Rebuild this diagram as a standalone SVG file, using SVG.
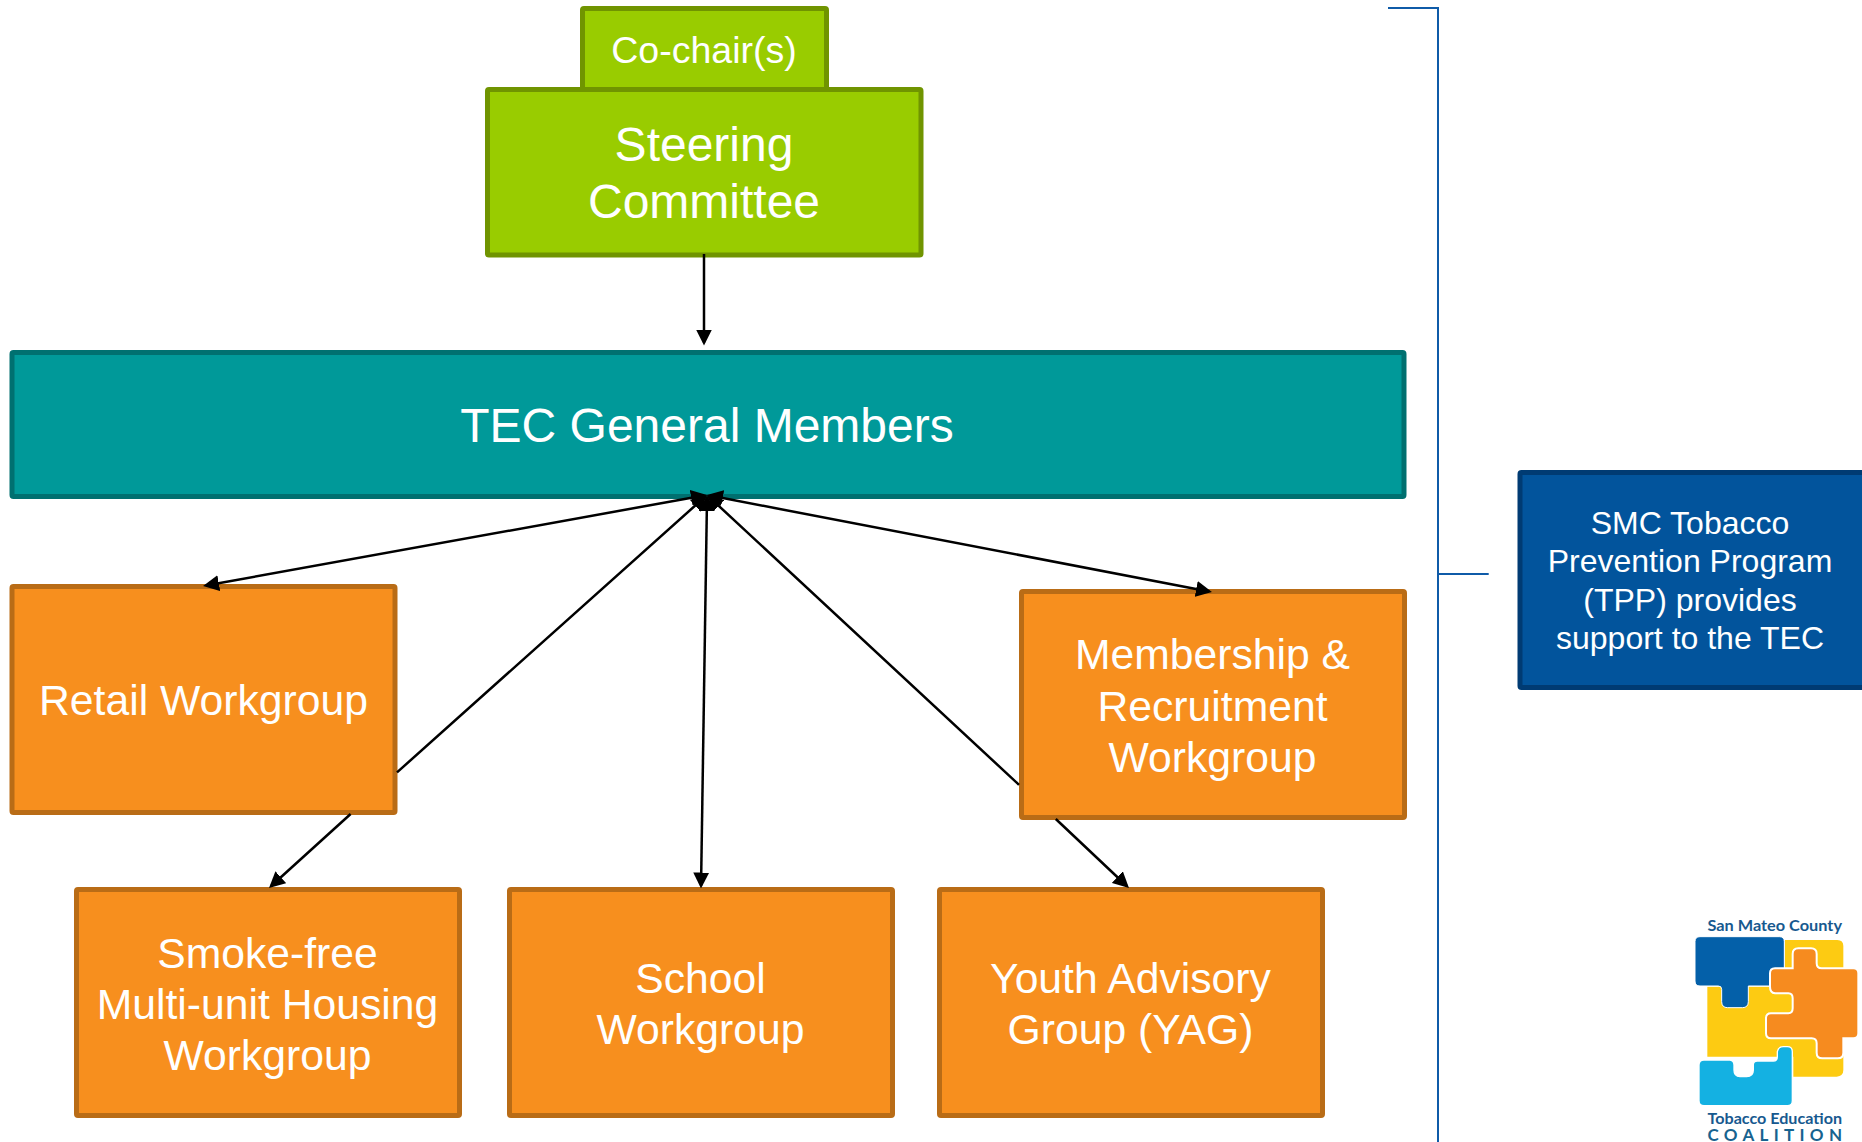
<svg xmlns="http://www.w3.org/2000/svg" width="1862" height="1142" viewBox="0 0 1862 1142">
<style>
text{font-family:"Liberation Sans",Arial,sans-serif;fill:#fff;text-anchor:middle}
.box{stroke-width:5}
.g{fill:#99CC00;stroke:#709400}
.t{fill:#009999;stroke:#007070}
.o{fill:#F78F1E;stroke:#B96C16}
.b{fill:#02549C;stroke:#003B73}
.f48{font-size:48px}.f42{font-size:42.7px}.f37{font-size:37.5px}.f32{font-size:32px}
.c{fill:none;stroke:#000;stroke-width:2.5;marker-end:url(#h)}
.d{marker-start:url(#hs)}
.br{fill:none;stroke:#0F5BA8;stroke-width:2}
.lt{font-family:Lato,"Open Sans",sans-serif;font-weight:700;text-anchor:start;fill:#17598F}
</style>
<defs>
<marker id="h" markerUnits="userSpaceOnUse" markerWidth="16" markerHeight="16" refX="13" refY="8" orient="auto"><path d="M0 0L16 8L0 16Z" fill="#000"/></marker>
<marker id="hs" markerUnits="userSpaceOnUse" markerWidth="16" markerHeight="16" refX="3" refY="8" orient="auto"><path d="M16 0L0 8L16 16Z" fill="#000"/></marker>
</defs>
<rect width="1862" height="1142" fill="#fff"/>
<g id="cochair"><rect class="box g" x="582.5" y="8.5" width="244" height="84" rx="1.5"/><text class="f37" x="704" y="63">Co-chair(s)</text></g>
<g id="steering"><rect class="box g" x="487.5" y="89.5" width="433.5" height="165.5" rx="1.5"/><text class="f48" x="704" y="161">Steering</text><text class="f48" x="704" y="218">Committee</text></g>
<g id="tec"><rect class="box t" x="12" y="352.5" width="1392" height="144" rx="1.5"/><text class="f48" x="707" y="442">TEC General Members</text></g>
<g id="retail"><rect class="box o" x="12" y="586.5" width="383" height="226" rx="1.5"/><text class="f42" x="203.5" y="715">Retail Workgroup</text></g>
<g id="membership"><rect class="box o" x="1021.5" y="591.5" width="383" height="226" rx="1.5"/><text class="f42" x="1212.5" y="669">Membership &amp;</text><text class="f42" x="1212.5" y="720.5">Recruitment</text><text class="f42" x="1212.5" y="772">Workgroup</text></g>
<g id="smokefree"><rect class="box o" x="76.5" y="889.5" width="383" height="226" rx="1.5"/><text class="f42" x="267.5" y="968">Smoke-free</text><text class="f42" x="267.5" y="1019">Multi-unit Housing</text><text class="f42" x="267.5" y="1070">Workgroup</text></g>
<g id="school"><rect class="box o" x="509.5" y="889.5" width="383" height="226" rx="1.5"/><text class="f42" x="700.5" y="993">School</text><text class="f42" x="700.5" y="1044">Workgroup</text></g>
<g id="youth"><rect class="box o" x="939.5" y="889.5" width="383" height="226" rx="1.5"/><text class="f42" x="1130.5" y="993">Youth Advisory</text><text class="f42" x="1130.5" y="1044">Group (YAG)</text></g>
<g id="tpp"><rect class="box b" x="1520" y="472.5" width="345" height="215" rx="1.5"/><text class="f32" x="1690" y="534">SMC Tobacco</text><text class="f32" x="1690" y="572">Prevention Program</text><text class="f32" x="1690" y="611">(TPP) provides</text><text class="f32" x="1690" y="649">support to the TEC</text></g>
<g id="logo">
<text class="lt" x="1707.5" y="931" font-size="15.5" textLength="134.5" lengthAdjust="spacingAndGlyphs">San Mateo County</text>
<g transform="translate(1640 880) scale(.33333)">
<path fill="#FDCB12" d="M435 180H592Q610 180 610 198V570Q610 588 590 590H460V530H202V320H435Z"/>
<path fill="#0460A9" stroke="#fff" stroke-width="3" d="M180 170H418Q433 170 433 185V318H325V365Q325 383 307 383H263Q245 383 245 365V328Q245 318 235 318H180Q165 318 165 303V185Q165 170 180 170Z"/>
<path fill="#F68B1F" stroke="#fff" stroke-width="6" d="M458 265V222Q458 205 475 205H513Q530 205 530 222V250Q530 265 545 265H640Q655 265 655 280V460Q655 475 640 475H610V518Q610 535 593 535H547Q530 535 530 518V490Q530 475 515 475H393Q378 475 378 460V415Q378 400 393 400H445Q458 400 458 385V355Q458 340 445 340H405Q390 338 390 320V280Q390 265 405 265Z"/>
<path fill="#14B1E2" stroke="#fff" stroke-width="4" d="M192 540H270Q282 542 282 555V570Q282 590 300 590H320Q340 590 340 570V555Q340 543 352 543H400Q412 543 412 530V515Q415 500 430 500H442Q457 500 457 515V662Q457 677 442 677H192Q177 677 177 662V555Q177 540 192 540Z"/>
</g>
<text class="lt" x="1707.5" y="1124" font-size="15.5" textLength="134.5" lengthAdjust="spacingAndGlyphs">Tobacco Education</text>
<text class="lt" x="1707.5" y="1141" font-size="17" textLength="134.5" style="fill:#17638F">COALITION</text>
</g>
<g id="connectors">
<path class="c" d="M704 254V342.5"/>
<path class="c d" d="M704 495.5L206 585.5"/>
<path class="c d" d="M704.8 497L397 772.4M350.6 814L271.2 886"/>
<path class="c d" d="M707 498L701.05 885.5"/>
<path class="c d" d="M709.2 497L1019 784.8M1055.8 819L1126.8 886"/>
<path class="c d" d="M709.9 495.6L1209 591.4"/>
<path class="br" d="M1388 8H1438V1142M1438 574H1488.7"/>
</g>
</svg>
